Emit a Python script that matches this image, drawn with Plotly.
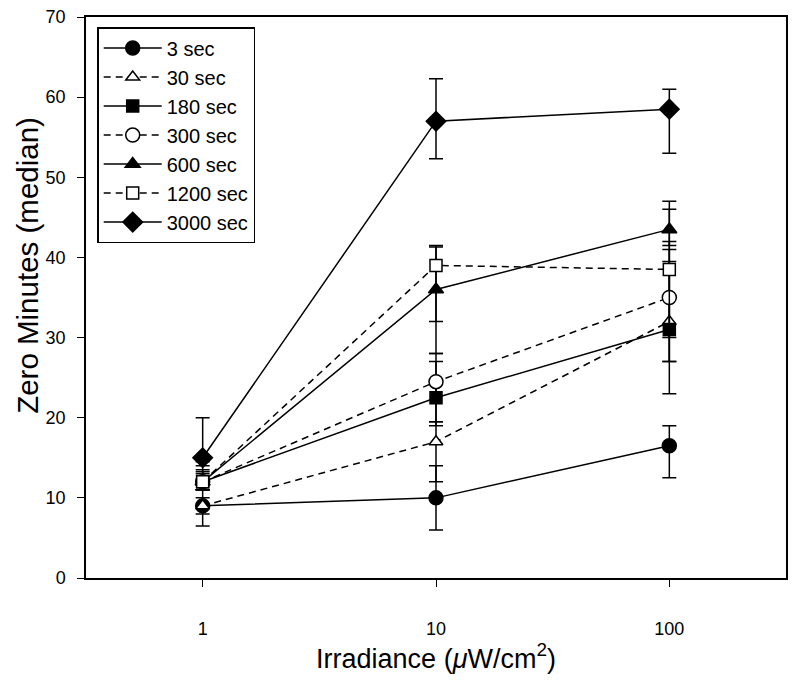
import plotly.graph_objects as go

irradiance = [1, 10, 100]
series_names = ["3 sec", "30 sec", "180 sec", "300 sec", "600 sec", "1200 sec", "3000 sec"]

median_3 = [9, 10, 16.5]
median_30 = [9, 17, 32]
median_180 = [12, 22.5, 31]
median_300 = [12, 24.5, 35]
median_600 = [12, 36, 43.5]
median_1200 = [12, 39, 38.5]
median_3000 = [15, 57, 58.5]

upper_3 = [11, 14, 19]
upper_30 = [10, 19.5, 41]
upper_180 = [13, 28, 39.5]
upper_300 = [13.5, 27, 42]
upper_600 = [14.5, 41.3, 47]
upper_1200 = [13.25, 41.5, 46]
upper_3000 = [20, 62.3, 61]

lower_3 = [6.5, 6, 12.5]
lower_30 = [8, 12, 23]
lower_180 = [11, 19, 27]
lower_300 = [11, 19.5, 30]
lower_600 = [11, 28, 41.5]
lower_1200 = [11, 32, 27]
lower_3000 = [14, 52.3, 53]

medians = [median_3, median_30, median_180, median_300, median_600, median_1200, median_3000]
uppers = [upper_3, upper_30, upper_180, upper_300, upper_600, upper_1200, upper_3000]
lowers = [lower_3, lower_30, lower_180, lower_300, lower_600, lower_1200, lower_3000]

symbols = ["circle", "triangle-up", "square", "circle", "triangle-up", "square", "diamond"]
filled = [True, False, True, False, True, False, True]
dashes = ["solid", "7px,5px", "solid", "7px,5px", "solid", "7px,5px", "solid"]
sizes = [14, 12, 12, 14, 13, 12, 15]

fig = go.Figure()
for name, med, up, lo, sym, fill, dsh, sz in zip(series_names, medians, uppers, lowers, symbols, filled, dashes, sizes):
    fig.add_trace(go.Scatter(
        x=irradiance, y=med, name=name, mode="lines+markers",
        line=dict(color="black", width=1.5, dash=dsh),
        marker=dict(symbol=sym, size=sz, color="black" if fill else "white",
                    line=dict(color="black", width=1.5)),
        error_y=dict(type="data", symmetric=False,
                     array=[u - m for u, m in zip(up, med)],
                     arrayminus=[m - l for m, l in zip(med, lo)],
                     color="black", thickness=1.5, width=7),
    ))

fig.update_layout(
    width=792, height=676,
    margin=dict(l=78, r=14, t=9, b=106),
    paper_bgcolor="white", plot_bgcolor="white",
    font=dict(family="Liberation Sans, Arial, sans-serif", color="black", size=17),
    showlegend=True,
    legend=dict(x=0.016, y=0.982, xanchor="left", yanchor="top",
                bordercolor="black", borderwidth=1.5, bgcolor="white",
                font=dict(size=20), itemwidth=58),
    xaxis=dict(type="log", range=[-0.5, 2.5], tickvals=irradiance, ticktext=["1", "10", "100"],
               showline=True, linecolor="black", linewidth=1.5, mirror=True, automargin=False,
               ticks="outside", ticklen=7, tickcolor="black", showgrid=False, zeroline=False,
               tickfont=dict(size=18), ticklabelstandoff=27, ticklabeloverflow="allow",
               title=dict(text="Irradiance (<i>μ</i>W/cm<sup>2</sup>)", font=dict(size=27), standoff=3)),
    yaxis=dict(range=[0, 70], tickvals=[0, 10, 20, 30, 40, 50, 60, 70],
               showline=True, linecolor="black", linewidth=1.5, mirror=True, automargin=False,
               ticks="outside", ticklen=7, tickcolor="black", showgrid=False, zeroline=False,
               tickfont=dict(size=18), ticklabelstandoff=8, ticklabeloverflow="allow"),
    annotations=[dict(text="Zero Minutes (median)", textangle=-90, showarrow=False,
                      xref="paper", yref="paper", x=-0.083, y=0.558,
                      xanchor="center", yanchor="middle", font=dict(size=29.5))],
)

fig.write_html("out.html")
